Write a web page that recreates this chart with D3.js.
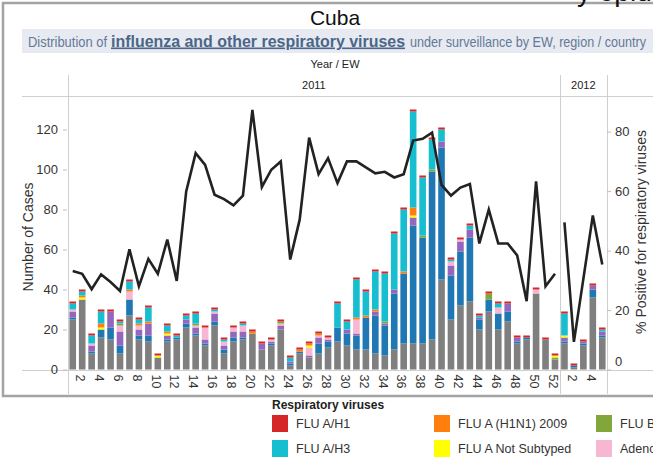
<!DOCTYPE html>
<meta charset="utf-8">
<style>
body { margin: 0; background: #fff; }
svg { display: block; font-family: "Liberation Sans", Arial, sans-serif; }
.frame { fill: none; stroke: #a3a3a3; stroke-width: 2.5px; }
.rule { stroke: #cfcfcf; stroke-width: 1px; shape-rendering: crispEdges; }
.axis .domain { display: none; }
.axis line { stroke: #bdbdbd; }
.axis text { fill: #333; }
.pct { fill: none; stroke: #222; stroke-width: 2.6px; }
</style>
<body>
<script src="https://d3js.org/d3.v7.min.js"></script>
<script>
// epidemiological weeks shown, 2011 then 2012
var weeks2011 = d3.range(1, 53);
var weeks2012 = [1, 2, 3, 4, 5];

// cases per week (2011 wk1..52, then 2012 wk1..5)
var other       = [25,35,8,16,15,8,27,15,14,6, 14,15,21,17,12,22,8,14,15,18, 10,12,20,2,8,6,8,11,14,12, 10,10,8,7,10,13,13,13,15,45, 25,32,34,20,29,20,24,13,15,38, 15,5, 13,1,12,36,16];
var rsv         = [1,0,1,4,6,4,8,2,3,0, 1,1,2,1,1,2,2,2,1,0, 0,1,0,1,1,0,5,3,7,6, 7,16,19,15,28,35,59,53,84,66, 22,27,32,5,6,8,5,1,1,0, 0,0, 1,1,1,4,1];
var parainfl    = [3,0,3,0,8,7,0,3,6,0, 2,0,2,3,2,4,2,3,3,0, 3,1,2,1,0,1,3,1,0,2, 1,0,2,1,2,0,4,0,0,3, 5,5,4,1,0,0,4,2,0,0, 0,0, 2,0,1,2,2];
var adeno       = [1,0,1,0,0,3,4,2,0,0, 0,0,0,1,6,1,2,2,3,0, 0,1,1,0,0,4,1,1,0,0, 7,0,0,0,0,0,0,0,0,0, 2,1,0,0,0,3,0,0,0,2, 0,0, 0,0,0,0,0];
var fluB        = [0,0,0,0,0,1,0,0,0,0, 0,0,0,1,0,0,0,0,0,0, 0,0,1,0,0,0,0,0,0,0, 0,0,0,1,0,0,0,1,1,0, 0,0,0,0,3,0,0,0,0,0, 0,1, 0,0,0,0,0];
var fluNotSub   = [0,1,0,1,0,0,0,0,0,1, 1,0,0,0,0,0,0,0,0,0, 0,0,0,0,0,1,0,0,0,0, 0,0,0,0,0,0,1,0,0,0, 0,0,0,0,0,0,0,0,0,0, 0,1, 1,0,0,0,0];
var fluH1N1pdm  = [0,1,0,2,0,0,1,1,1,0, 1,0,0,0,0,0,0,0,0,1, 0,0,0,0,1,1,1,0,0,0, 1,1,1,0,0,1,4,0,0,0, 0,0,0,0,0,0,0,0,0,0, 0,0, 0,0,0,0,0];
var fluH3       = [3,2,4,6,0,1,4,2,7,0, 3,1,2,5,0,1,1,0,1,0, 0,0,0,2,0,0,0,0,12,4, 19,12,19,24,28,31,48,29,15,6, 1,0,2,1,0,2,0,0,0,0, 0,0, 11,0,0,0,1];
var fluH1       = [1,1,1,1,1,1,1,1,1,1, 1,1,1,1,1,1,1,1,1,1, 1,1,1,1,1,1,1,1,1,1, 1,1,1,1,1,1,1,1,1,1, 1,1,1,1,1,1,1,1,1,1, 1,1, 1,1,1,1,1];

// % positive for respiratory viruses
var pct2011 = [33.1,32.2,27,32,29.4,26.4,40.4,28,37.2,32.2, 43.7,29.8,59.9,72.8,68.8,58.8,57.3,55.2,58.5,87.3,
               61.4,67.2,70,37,50.4,78,65.7,71.1,62.7,70, 70,68,66,66.5,64.6,65.7,77,77.6,79.7,62.1,
               58.5,61.2,62.4,42.4,53.8,42.4,42.4,38.4,23,63.3, 28,32.2];
var pct2012 = [49.5,9.3,30.5,51.8,35.3];

var casesTicks = [0, 20, 40, 60, 80, 100, 120];
var pctTicks = [0, 20, 40, 60, 80];

var seriesNames = ["Other", "RSV", "Parainfluenza", "Adenovirus", "FLU B", "FLU A Not Subtyped", "FLU A (H1N1) 2009", "FLU A/H3", "FLU A/H1"];
var seriesVals  = [other, rsv, parainfl, adeno, fluB, fluNotSub, fluH1N1pdm, fluH3, fluH1];
var seriesCols  = ["#7f7f7f", "#1f77b4", "#9467bd", "#f7b6d2", "#82a63a", "#ffff00", "#ff7f0e", "#17becf", "#d62728"];

var legendNames = ["FLU A/H1", "FLU A/H3", "FLU A (H1N1) 2009", "FLU A Not Subtyped", "FLU B", "Adenovirus"];

var W = 653, H = 457;
var svg = d3.select("body").append("svg").attr("width", W).attr("height", H);

// build rows
var keys = weeks2011.map(function(w) { return "2011-" + w; })
  .concat(weeks2012.map(function(w) { return "2012-" + w; }));
var rows = keys.map(function(k, i) {
  var r = { key: k, week: +k.split("-")[1] };
  seriesNames.forEach(function(n, j) { r[n] = seriesVals[j][i]; });
  return r;
});

var x = d3.scaleBand().domain(keys).range([68, 607]).paddingInner(0.3).paddingOuter(0.15);
var y = d3.scaleLinear().domain([0, 136.75]).range([369.5, 96]);
var y2 = d3.scaleLinear().domain([0, 92]).range([369.5, 96]);
var color = d3.scaleOrdinal().domain(seriesNames).range(seriesCols);

// frame and title
svg.append("rect").attr("class", "frame").attr("x", 3).attr("y", 3).attr("width", 720).attr("height", 393);
svg.append("text").attr("x", 577).attr("y", 1).style("font-size", "28px").style("fill", "#111").text("y epid");
svg.append("text").attr("x", 335).attr("y", 25).attr("text-anchor", "middle")
  .style("font-size", "21px").style("fill", "#111").text("Cuba");

svg.append("rect").attr("x", 22).attr("y", 29).attr("width", 640).attr("height", 24).attr("fill", "#e7eaf0");
svg.append("text").attr("x", 28).attr("y", 46.5).attr("textLength", 79).attr("lengthAdjust", "spacingAndGlyphs")
  .style("font-size", "14.5px").style("fill", "#64799a").text("Distribution of");
svg.append("text").attr("x", 111).attr("y", 46.5).attr("textLength", 294).attr("lengthAdjust", "spacingAndGlyphs")
  .style("font-size", "16px").style("font-weight", "bold").style("fill", "#4b6689")
  .style("text-decoration", "underline").text("influenza and other respiratory viruses");
svg.append("text").attr("x", 410).attr("y", 46.5).attr("textLength", 236).attr("lengthAdjust", "spacingAndGlyphs")
  .style("font-size", "14.5px").style("fill", "#64799a").text("under surveillance by EW, region / country");

// header
var x0 = x.range()[0], xSep = x0 + 52 * x.step(), x1 = x.range()[1];
svg.append("text").attr("x", 335).attr("y", 68).attr("text-anchor", "middle")
  .style("font-size", "11px").style("fill", "#222").text("Year  /  EW");
svg.append("text").attr("x", (x0 + xSep) / 2).attr("y", 89).attr("text-anchor", "middle")
  .style("font-size", "11px").style("fill", "#222").text("2011");
svg.append("text").attr("x", (xSep + x1) / 2).attr("y", 89).attr("text-anchor", "middle")
  .style("font-size", "11px").style("fill", "#222").text("2012");

[x0, xSep, x1].forEach(function(xx) {
  svg.append("line").attr("class", "rule").attr("x1", Math.round(xx) + 0.5).attr("x2", Math.round(xx) + 0.5)
    .attr("y1", 75).attr("y2", 394);
});
[96, y(0)].forEach(function(yy) {
  svg.append("line").attr("class", "rule").attr("x1", 22).attr("x2", W).attr("y1", Math.round(yy) + 0.5).attr("y2", Math.round(yy) + 0.5);
});

// stacked bars
var stack = d3.stack().keys(seriesNames)(rows);
svg.append("g").selectAll("g").data(stack).join("g")
    .attr("fill", function(s) { return color(s.key); })
  .selectAll("rect").data(function(s) { return s; }).join("rect")
    .attr("x", function(d) { return x(d.data.key); })
    .attr("width", x.bandwidth())
    .attr("y", function(d) { return y(d[1]); })
    .attr("height", function(d) { return y(d[0]) - y(d[1]); });

// % positive line, one per year pane
var line = d3.line()
  .x(function(d) { return x(d.k) + x.bandwidth() / 2; })
  .y(function(d) { return y2(d.v); });
[["2011", pct2011], ["2012", pct2012]].forEach(function(p) {
  var pts = p[1].map(function(v, i) { return { k: p[0] + "-" + (i + 1), v: v }; });
  svg.append("path").datum(pts).attr("class", "pct").attr("d", line);
});

// left axis
var ga = svg.append("g").attr("class", "axis").attr("transform", "translate(67,0)")
  .call(d3.axisLeft(y).tickValues(casesTicks).tickSize(4).tickPadding(5));
ga.selectAll("text").style("font-size", "13px");
svg.append("text").attr("transform", "translate(33," + 237 + ") rotate(-90)").attr("text-anchor", "middle")
  .style("font-size", "14px").style("fill", "#333").text("Number of Cases");

// right axis
var gr = svg.append("g").attr("class", "axis").attr("transform", "translate(607,0)")
  .call(d3.axisRight(y2).tickValues(pctTicks).tickSize(4).tickPadding(4));
gr.selectAll("text").style("font-size", "13px")
  .attr("dy", function(d) { return d === 0 ? "-0.3em" : "0.32em"; });
svg.append("text").attr("transform", "translate(646," + 232 + ") rotate(-90)").attr("text-anchor", "middle")
  .style("font-size", "14px").style("fill", "#333").text("% Positive for respiratory viruses");

// bottom axis, even weeks
var gb = svg.append("g").attr("class", "axis").attr("transform", "translate(0," + y(0) + ")")
  .call(d3.axisBottom(x).tickValues(keys.filter(function(k) { return +k.split("-")[1] % 2 === 0; }))
    .tickSize(0).tickFormat(function(k) { return k.split("-")[1]; }));
gb.selectAll("text")
  .attr("transform", "rotate(90)").attr("x", 5).attr("y", 0).attr("dy", "0.5em")
  .style("text-anchor", "start").style("font-size", "12.5px");

// legend
var lg = svg.append("g").attr("transform", "translate(272,0)");
lg.append("text").attr("x", 0).attr("y", 409).style("font-size", "12px").style("font-weight", "bold")
  .style("fill", "#222").text("Respiratory viruses");
legendNames.forEach(function(n, i) {
  var cx = [0, 162, 324][Math.floor(i / 2)], cy = [415, 440][i % 2];
  lg.append("rect").attr("x", cx).attr("y", cy).attr("width", 16).attr("height", 17).attr("fill", color(n));
  lg.append("text").attr("x", cx + 24).attr("y", cy + 13).style("font-size", "12.5px").style("fill", "#333").text(n);
});
</script>
</body>
